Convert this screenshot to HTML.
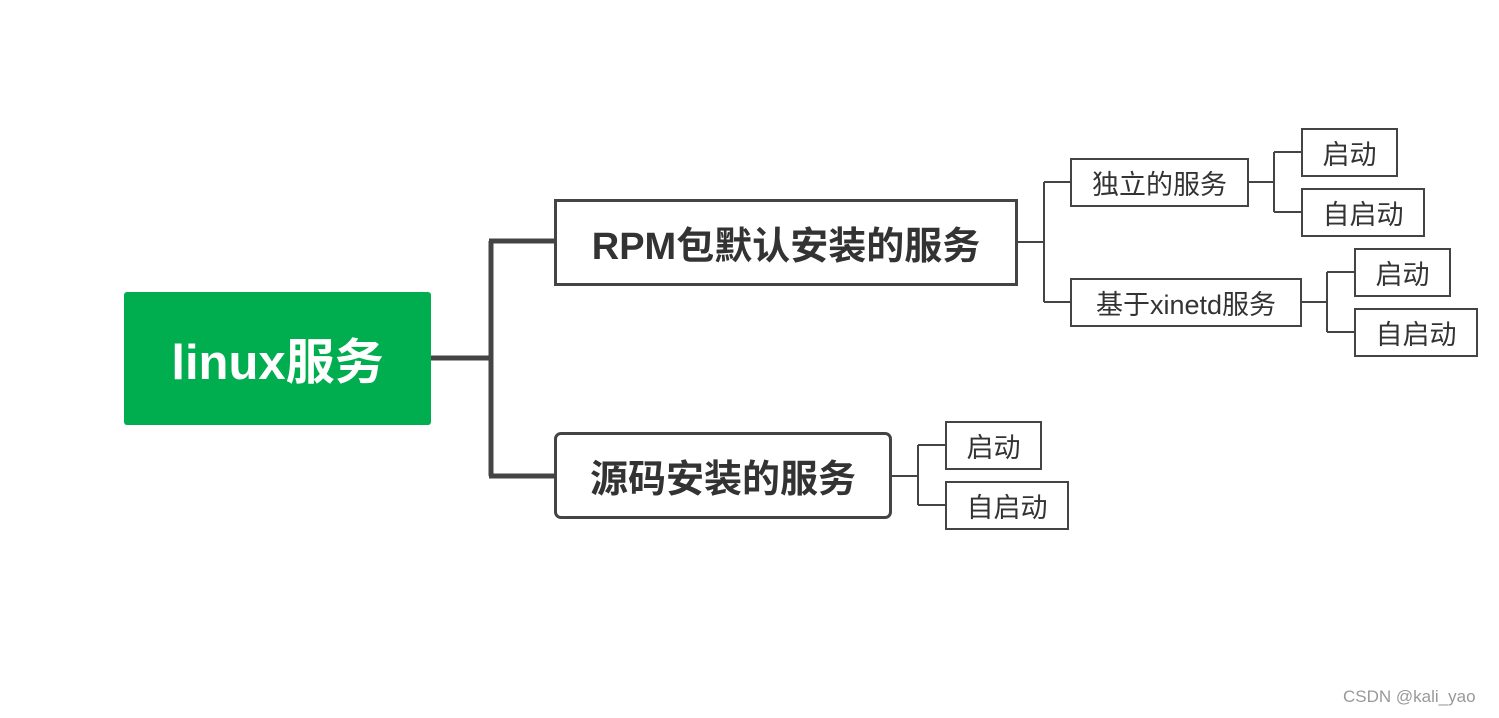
<!DOCTYPE html>
<html><head><meta charset="utf-8"><style>
body{margin:0;width:1499px;height:718px;background:#fff;position:relative;overflow:hidden;font-family:"Liberation Sans","Noto Sans CJK SC",sans-serif}
.b{position:absolute;box-sizing:border-box;display:flex;align-items:center;justify-content:center;color:#333;white-space:nowrap}
.s{border:2px solid #444;font-size:27px;background:#fff}
.m{border:3px solid #444;font-size:38px;font-weight:bold;background:#fff}
</style></head><body>
<svg width="1499" height="718" style="position:absolute;left:0;top:0">
<g fill="none" stroke="#444" stroke-width="5">
<path d="M431 358H491M491 241V476M489 241H555M489 476H555"/>
</g>
<g fill="none" stroke="#444" stroke-width="2">
<path d="M1017 242H1044M1044 182V302M1044 182H1070M1044 302H1070"/>
<path d="M1248 182H1274M1274 152V212M1274 152H1301M1274 212H1301"/>
<path d="M1301 302H1327M1327 272V332M1327 272H1354M1327 332H1354"/>
<path d="M891 476H918M918 445V505M918 445H945M918 505H945"/>
</g>
</svg>
<div class="b" style="left:124px;top:292px;width:307px;height:133px;background:#00ad4f;color:#fff;font-size:49px;font-weight:bold;border-radius:3px">linux服务</div>
<div class="b m" style="left:554px;top:199px;width:464px;height:87px">RPM包默认安装的服务</div>
<div class="b m" style="left:554px;top:432px;width:338px;height:87px;border-radius:7px">源码安装的服务</div>
<div class="b s" style="left:1070px;top:158px;width:179px;height:49px">独立的服务</div>
<div class="b s" style="left:1070px;top:278px;width:232px;height:49px">基于xinetd服务</div>
<div class="b s" style="left:1301px;top:128px;width:97px;height:49px">启动</div>
<div class="b s" style="left:1301px;top:188px;width:124px;height:49px">自启动</div>
<div class="b s" style="left:1354px;top:248px;width:97px;height:49px">启动</div>
<div class="b s" style="left:1354px;top:308px;width:124px;height:49px">自启动</div>
<div class="b s" style="left:945px;top:421px;width:97px;height:49px">启动</div>
<div class="b s" style="left:945px;top:481px;width:124px;height:49px">自启动</div>
<div style="position:absolute;left:1343px;top:687px;font-size:17px;color:#999">CSDN @kali_yao</div>
</body></html>
